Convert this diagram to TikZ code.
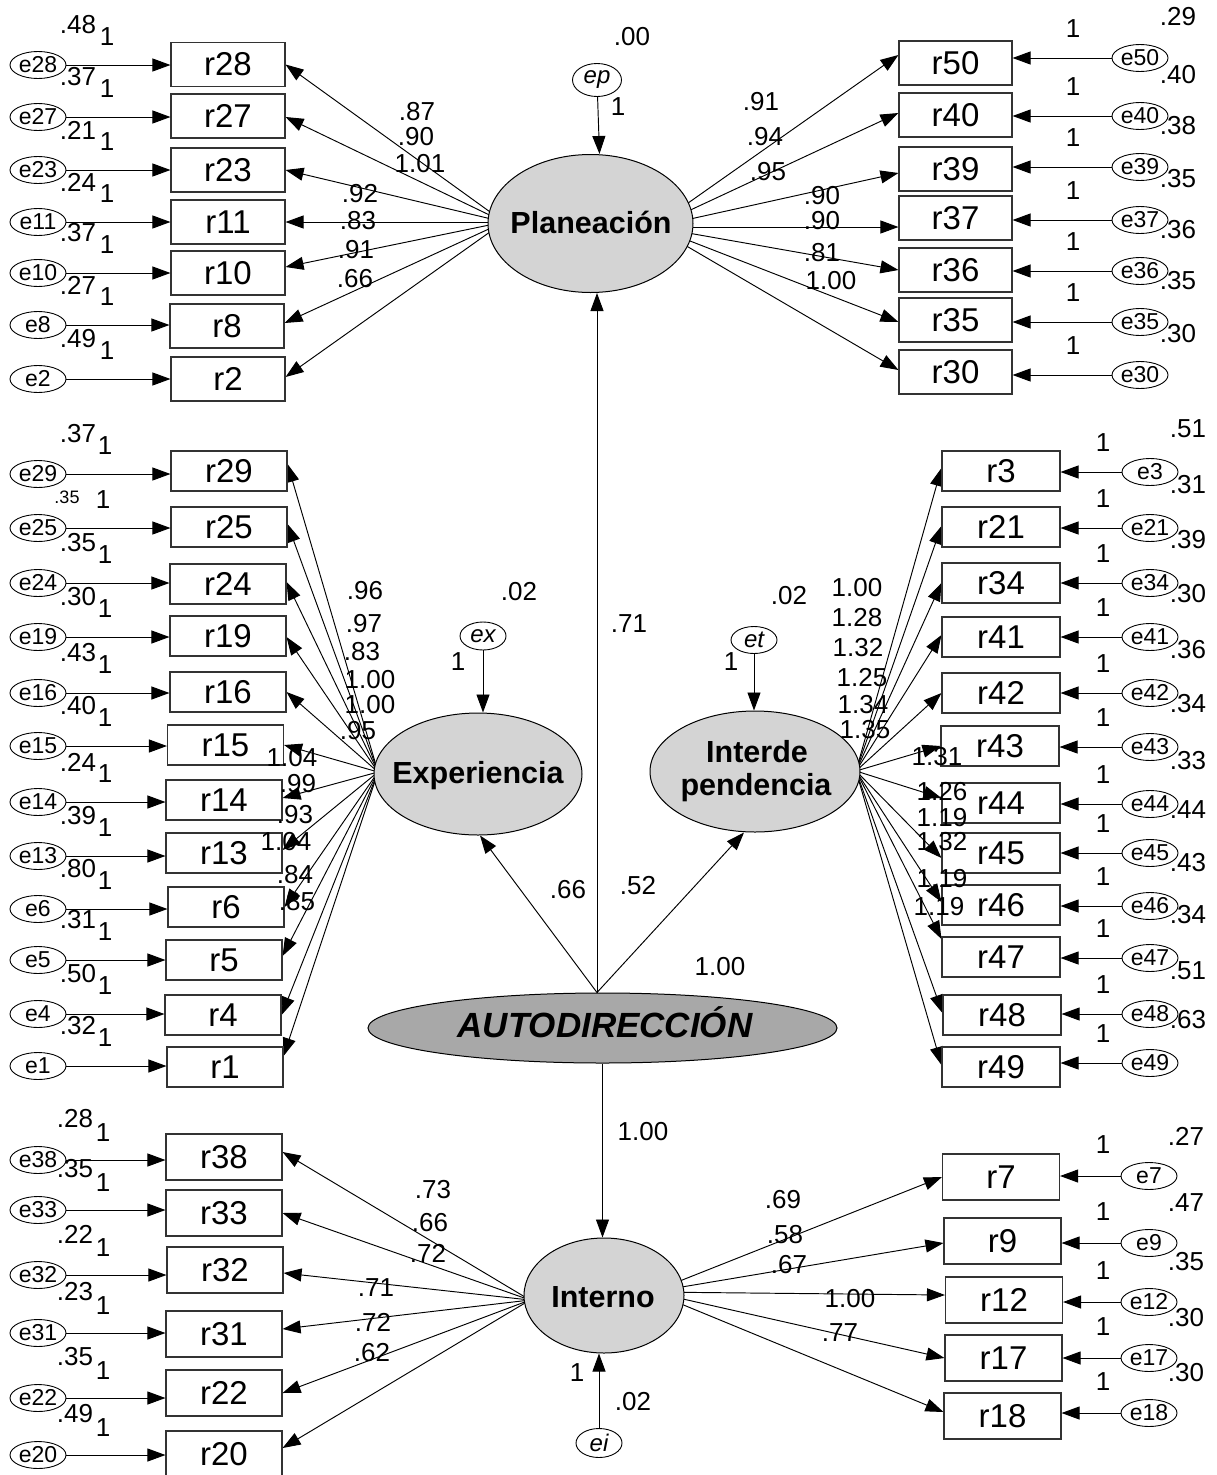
\documentclass[tikz,border=0pt]{standalone}
\usepackage{fontspec}
\setmainfont{Liberation Sans}
\usetikzlibrary{arrows.meta,shapes.geometric,calc}
\definecolor{latfill}{RGB}{212,212,212}
\definecolor{autofill}{RGB}{168,168,168}
\pgfdeclarelayer{bg}
\pgfsetlayers{bg,main}
% error term on the left of its indicator
\newcommand\ErrL[4]{%
  \node[enode] (#1) at (\EEX,#2) {#1};
  \draw[arr] (#1) -- (#1 -| #3.west);
  \node[val] (v#1) at (\EVX,#2-\EVDY) {#4};
  \node[val] (o#1) at (\EOX,#2-\EODY) {1};}
% error term on the right of its indicator
\newcommand\ErrR[4]{%
  \node[enode] (#1) at (\EEX,#2) {#1};
  \draw[arr] (#1) -- (#1 -| #3.east);
  \node[val] (v#1) at (\EVX,#2-\EVDY) {#4};
  \node[val] (o#1) at (\EOX,#2-\EODY) {1};}
\newcommand\Bx[5]{\node[box, minimum width=#4pt, minimum height=#5pt] (#1) at (#2,#3) {#1};}
\newcommand\Ld[4]{\draw[arr] (#1) -- ([yshift=#4pt]#2.#3);}
\newcommand\Lb[4]{\node[val] (#1) at (#2,#3) {#4};}
\begin{document}
\begin{tikzpicture}[x=1pt,y=-1pt,
  arr/.style={-{Triangle[length=18pt,width=13pt]}, line width=0.95pt},
  box/.style={draw=black!80, line width=1.1pt, inner sep=0pt, font=\fontsize{33}{36}\selectfont},
  enode/.style={ellipse, draw, line width=0.9pt, minimum width=56pt, minimum height=27pt, inner sep=0pt, font=\fontsize{23}{25}\selectfont},
  snode/.style={ellipse, draw, line width=0.9pt, minimum width=46pt, minimum height=29pt, inner sep=0pt, font=\itshape\fontsize{24}{26}\selectfont},
  val/.style={inner sep=0pt, font=\fontsize{26}{28}\selectfont},
  lat/.style={ellipse, draw, line width=1pt, fill=latfill, inner sep=0pt},
  lattxt/.style={inner sep=0pt, anchor=base, font=\bfseries\fontsize{30.5}{33}\selectfont},
]
\useasboundingbox (0,0) rectangle (1217,1475);

% ---------------- latent variables ----------------
\node[lat, minimum width=205pt, minimum height=138pt] (pl) at (590.5,223.5) {};
\node[lattxt] (plt) at (591,233) {Planeación};
\node[lat, minimum width=208pt, minimum height=122pt] (xp) at (478,774) {};
\node[lattxt] (xpt) at (478,783) {Experiencia};
\node[lat, minimum width=210pt, minimum height=121pt] (it) at (755,771.5) {};
\node[lattxt] (itt1) at (757,762) {Interde};
\node[lattxt] (itt2) at (756,795) {pendencia};
\node[lat, fill=autofill, minimum width=469pt, minimum height=70pt] (au) at (602.5,1028) {};
\node[inner sep=0pt, anchor=base, font=\bfseries\itshape\fontsize{35}{38}\selectfont] (aut) at (605,1037) {AUTODIRECCIÓN};
\node[lat, minimum width=160pt, minimum height=115pt] (intn) at (604,1295.5) {};
\node[lattxt] (intnt) at (603,1307) {Interno};

% disturbances
\node[snode, minimum width=49pt, minimum height=33pt] (ep) at (597,80) {ep};
\node[snode, minimum height=28pt] (ex) at (483,636) {ex};
\node[snode, minimum height=27pt] (et) at (754,640) {et};
\node[snode] (ei) at (599,1443) {ei};
\draw[arr] (ep) -- ([xshift=9pt]pl.north);
\draw[arr] (ex) -- (ex |- xp.north);
\draw[arr] (et) -- (et |- it.north);
\draw[arr] (ei) -- (ei |- intn.south);
\Lb{lep1}{632}{37}{.00}\Lb{lep2}{618}{107}{1}
\Lb{lex1}{519}{592}{.02}\Lb{lex2}{458}{662}{1}
\Lb{let1}{789}{596}{.02}\Lb{let2}{731}{662}{1}
\Lb{lei1}{633}{1402}{.02}\Lb{lei2}{577}{1373}{1}

% structural paths
\coordinate (apex) at ([xshift=-5.5pt]au.north);
\draw[arr] (apex) -- (apex |- pl.south);
\draw[arr] (apex) -- ([xshift=2pt]xp.south);
\draw[arr] (apex) -- ([xshift=-11pt]it.south);
\draw[arr] (au.south) -- (au.south |- intn.north);
\Lb{s1}{629}{624}{.71}
\Lb{s2}{568}{890}{.66}
\Lb{s3}{638}{886}{.52}
\Lb{s4}{720}{967}{1.00}
\Lb{s5}{643}{1132}{1.00}

% ---------------- Planeacion left ----------------
\Bx{r28}{228}{64.5}{114}{44}
\Bx{r27}{228}{116}{114}{44}
\Bx{r23}{228}{170}{114}{44}
\Bx{r11}{228}{222}{114}{44}
\Bx{r10}{228}{273}{114}{44}
\Bx{r8}{227}{326}{114}{44}
\Bx{r2}{228}{379}{114}{44}
\def\EEX{38}\def\EVX{78}\def\EVDY{40}\def\EOX{107}\def\EODY{28}
\ErrL{e28}{65}{r28}{.48}
\ErrL{e27}{117}{r27}{.37}
\ErrL{e23}{170}{r23}{.21}
\ErrL{e11}{222}{r11}{.24}
\ErrL{e10}{273}{r10}{.37}
\ErrL{e8}{325}{r8}{.27}
\ErrL{e2}{379}{r2}{.49}
\Lb{a1}{417}{112}{.87}
\Lb{a2}{416}{137}{.90}
\Lb{a3}{420}{164}{1.01}
\Lb{a4}{360}{194}{.92}
\Lb{a5}{358}{221}{.83}
\Lb{a6}{356}{250}{.91}
\Lb{a7}{355}{279}{.66}

% ---------------- Planeacion right ----------------
\Bx{r50}{955.5}{63}{113}{44}
\Bx{r40}{955.5}{115}{113}{44}
\Bx{r39}{955.5}{169}{113}{44}
\Bx{r37}{955.5}{218}{113}{44}
\Bx{r36}{955.5}{270}{113}{44}
\Bx{r35}{955.5}{320}{113}{44}
\Bx{r30}{955.5}{372}{113}{44}
\def\EEX{1140}\def\EVX{1178}\def\EVDY{41}\def\EOX{1073}\def\EODY{29}
\ErrR{e50}{58}{r50}{.29}
\ErrR{e40}{116}{r40}{.40}
\ErrR{e39}{167}{r39}{.38}
\ErrR{e37}{220}{r37}{.35}
\ErrR{e36}{271}{r36}{.36}
\ErrR{e35}{322}{r35}{.35}
\ErrR{e30}{375}{r30}{.30}
\Lb{b1}{761}{102}{.91}
\Lb{b2}{765}{137}{.94}
\Lb{b3}{768}{172}{.95}
\Lb{b4}{822}{196}{.90}
\Lb{b5}{822}{221}{.90}
\Lb{b6}{822}{253}{.81}
\Lb{b7}{831}{281}{1.00}

% ---------------- Experiencia left ----------------
\Bx{r29}{229}{471}{116}{40}
\Bx{r25}{229}{527}{116}{40}
\Bx{r24}{228}{584}{116}{40}
\Bx{r19}{228}{636}{116}{40}
\Bx{r16}{228}{692}{116}{40}
\Bx{r15}{225.5}{745}{116}{40}
\Bx{r14}{224}{800}{116}{40}
\Bx{r13}{224}{853}{116}{40}
\Bx{r6}{226}{907}{116}{40}
\Bx{r5}{224}{960}{116}{40}
\Bx{r4}{223}{1015}{116}{40}
\Bx{r1}{225}{1067}{116}{40}
\def\EEX{38}\def\EVX{78}\def\EVDY{40}\def\EOX{105}\def\EODY{28}
\ErrL{e29}{474}{r29}{.37}
\node[enode] (e25) at (38,528) {e25};
\draw[arr] (e25) -- (e25 -| r25.west);
\node[inner sep=0pt, font=\fontsize{18}{20}\selectfont] (ve25) at (67,497) {.35};
\node[val] (oe25) at (103,500) {1};
\ErrL{e24}{583}{r24}{.35}
\ErrL{e19}{637}{r19}{.30}
\ErrL{e16}{693}{r16}{.43}
\ErrL{e15}{746}{r15}{.40}
\ErrL{e14}{802}{r14}{.24}
\ErrL{e13}{856}{r13}{.39}
\ErrL{e6}{909}{r6}{.80}
\ErrL{e5}{960}{r5}{.31}
\ErrL{e4}{1014}{r4}{.50}
\ErrL{e1}{1066}{r1}{.32}
\Lb{c1}{365}{591}{.96}
\Lb{c2}{364}{624}{.97}
\Lb{c3}{362}{652}{.83}
\Lb{c4}{370}{679.5}{1.00}
\Lb{c5}{370}{705}{1.00}
\Lb{c6}{358}{731}{.95}
\Lb{c7}{292}{758}{1.04}
\Lb{c8}{298}{784}{.99}
\Lb{c9}{295}{815}{.93}
\Lb{c10}{286}{842}{1.04}
\Lb{c11}{295}{875}{.84}
\Lb{c12}{297}{902}{.85}

% ---------------- Interdependencia right ----------------
\Bx{r3}{1001}{471}{118}{40}
\Bx{r21}{1001}{527}{118}{40}
\Bx{r34}{1001}{583}{118}{40}
\Bx{r41}{1001}{637}{118}{40}
\Bx{r42}{1001}{693}{118}{40}
\Bx{r43}{1000}{746}{118}{40}
\Bx{r44}{1001}{803}{118}{40}
\Bx{r45}{1001}{853}{118}{40}
\Bx{r46}{1001}{905}{118}{40}
\Bx{r47}{1001}{957}{118}{40}
\Bx{r48}{1002}{1015}{118}{40}
\Bx{r49}{1001}{1067}{118}{40}
\def\EEX{1150}\def\EVX{1188}\def\EVDY{43}\def\EOX{1103}\def\EODY{29}
\ErrR{e3}{472}{r3}{.51}
\ErrR{e21}{528}{r21}{.31}
\ErrR{e34}{583}{r34}{.39}
\ErrR{e41}{637}{r41}{.30}
\ErrR{e42}{693}{r42}{.36}
\ErrR{e43}{747}{r43}{.34}
\ErrR{e44}{804}{r44}{.33}
\ErrR{e45}{853}{r45}{.44}
\ErrR{e46}{906}{r46}{.43}
\ErrR{e47}{958}{r47}{.34}
\ErrR{e48}{1014}{r48}{.51}
\ErrR{e49}{1063}{r49}{.63}
\Lb{d1}{857}{588}{1.00}
\Lb{d2}{857}{618}{1.28}
\Lb{d3}{858}{648}{1.32}
\Lb{d4}{862}{678}{1.25}
\Lb{d5}{863}{705}{1.34}
\Lb{d6}{865}{730}{1.35}
\Lb{d7}{937}{757}{1.31}
\Lb{d8}{942}{792}{1.26}
\Lb{d9}{942}{818}{1.19}
\Lb{d10}{942}{842}{1.32}
\Lb{d11}{942}{879}{1.19}
\Lb{d12}{939}{907}{1.19}

% ---------------- Interno left ----------------
\Bx{r38}{224}{1157}{116}{46}
\Bx{r33}{224}{1213}{116}{46}
\Bx{r32}{225}{1270}{116}{46}
\Bx{r31}{224}{1334}{116}{46}
\Bx{r22}{224}{1393}{116}{46}
\Bx{r20}{224}{1454}{116}{46}
\def\EEX{38}\def\EVX{75}\def\EVDY{41}\def\EOX{103}\def\EODY{27}
\ErrL{e38}{1160}{r38}{.28}
\ErrL{e33}{1210}{r33}{.35}
\ErrL{e32}{1275}{r32}{.22}
\ErrL{e31}{1333}{r31}{.23}
\ErrL{e22}{1398}{r22}{.35}
\ErrL{e20}{1455}{r20}{.49}
\Lb{f1}{433}{1190}{.73}
\Lb{f2}{430}{1223}{.66}
\Lb{f3}{428}{1253}{.72}
\Lb{f4}{376}{1288}{.71}
\Lb{f5}{373}{1322}{.72}
\Lb{f6}{372}{1353}{.62}

% ---------------- Interno right ----------------
\Bx{r7}{1001}{1177}{117}{46}
\Bx{r9}{1002.5}{1241}{117}{46}
\Bx{r12}{1004}{1300}{117}{46}
\Bx{r17}{1003.5}{1358}{117}{46}
\Bx{r18}{1002.5}{1416}{117}{46}
\def\EEX{1149}\def\EVX{1186}\def\EVDY{40}\def\EOX{1103}\def\EODY{31}
\ErrR{e7}{1176}{r7}{.27}
\ErrR{e9}{1243}{r9}{.47}
\ErrR{e12}{1302}{r12}{.35}
\ErrR{e17}{1358}{r17}{.30}
\ErrR{e18}{1413}{r18}{.30}
\Lb{g1}{783}{1200}{.69}
\Lb{g2}{785}{1235}{.58}
\Lb{g3}{789}{1265}{.67}
\Lb{g4}{850}{1299}{1.00}
\Lb{g5}{840}{1333}{.77}

% ---------------- loadings (under the latent ellipses) ----------------
\coordinate (fPL) at (504,222);
\coordinate (fPR) at (654,227);
\coordinate (fXP) at (378,772);
\coordinate (fIT) at (856,771);
\coordinate (fNL) at (530,1300);
\coordinate (fNR) at (652,1292);
\begin{pgfonlayer}{bg}
\Ld{fPL}{r28}{east}{0}\Ld{fPL}{r27}{east}{-1}\Ld{fPL}{r23}{east}{0}
\Ld{fPL}{r11}{east}{0}\Ld{fPL}{r10}{east}{6}\Ld{fPL}{r8}{east}{3}\Ld{fPL}{r2}{east}{2}
\Ld{fPR}{r50}{west}{8}\Ld{fPR}{r40}{west}{2}\Ld{fPR}{r39}{west}{-4}
\Ld{fPR}{r37}{west}{-9}\Ld{fPR}{r36}{west}{0}\Ld{fPR}{r35}{west}{-2}\Ld{fPR}{r30}{west}{2}
\Ld{fXP}{r29}{east}{7}\Ld{fXP}{r25}{east}{3}\Ld{fXP}{r24}{east}{2}\Ld{fXP}{r19}{east}{-1}
\Ld{fXP}{r16}{east}{0}\Ld{fXP}{r15}{east}{0}\Ld{fXP}{r14}{east}{2}\Ld{fXP}{r13}{east}{3}
\Ld{fXP}{r6}{east}{0}\Ld{fXP}{r5}{east}{4}\Ld{fXP}{r4}{east}{0}\Ld{fXP}{r1}{east}{11}
\Ld{fIT}{r3}{west}{3}\Ld{fIT}{r21}{west}{1}\Ld{fIT}{r34}{west}{0}\Ld{fIT}{r41}{west}{2}
\Ld{fIT}{r42}{west}{0}\Ld{fIT}{r43}{west}{0}\Ld{fIT}{r44}{west}{5}\Ld{fIT}{r45}{west}{-5}
\Ld{fIT}{r46}{west}{3}\Ld{fIT}{r47}{west}{18}\Ld{fIT}{r48}{west}{2}\Ld{fIT}{r49}{west}{2}
\Ld{fNL}{r38}{east}{5}\Ld{fNL}{r33}{east}{0}\Ld{fNL}{r32}{east}{-3}
\Ld{fNL}{r31}{east}{5}\Ld{fNL}{r22}{east}{0}\Ld{fNL}{r20}{east}{6}
\Ld{fNR}{r7}{west}{0}\Ld{fNR}{r9}{west}{-2}\Ld{fNR}{r12}{west}{5}
\Ld{fNR}{r17}{west}{0}\Ld{fNR}{r18}{west}{4}
\end{pgfonlayer}
\end{tikzpicture}
\end{document}
